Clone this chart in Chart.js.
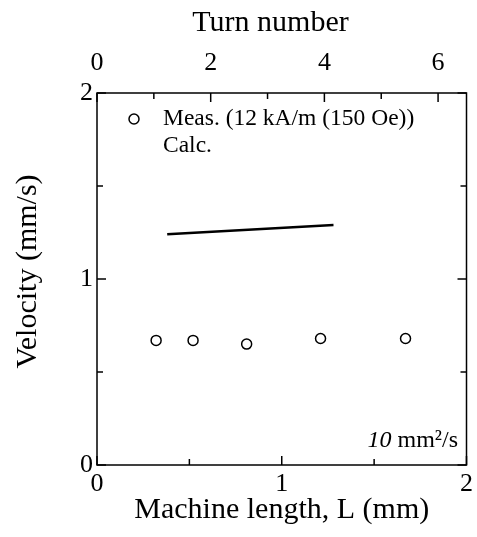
<!DOCTYPE html>
<html>
<head>
<meta charset="utf-8">
<script src="https://cdn.jsdelivr.net/npm/chart.js@4/dist/chart.umd.min.js"></script>
<style>
  html, body { margin: 0; padding: 0; background: #fff; }
</style>
</head>
<body>
<canvas id="c" width="477" height="537"></canvas>
<script>
// --- data ---
const lengthMeas = [0.32, 0.52, 0.81, 1.21, 1.67];
const velMeas = [0.67, 0.67, 0.65, 0.68, 0.68];
const lengthCalc = [0.38, 1.28];
const velCalc = [1.24, 1.29];

const lengthTicks = [0, 1, 2];
const lengthMinor = [0.5, 1.5];
const turnTicks = [0, 2, 4, 6];
const turnMinor = [1, 3, 5];
const velTicks = [0, 1, 2];
const velMinor = [0.5, 1.5];

const serif = 'Liberation Serif';

// frame + inward ticks, legend and note
const frameTicks = {
  id: 'frameTicks',
  afterDatasetsDraw(chart) {
    const { ctx, chartArea: a, scales } = chart;
    ctx.save();
    ctx.strokeStyle = '#000';
    ctx.lineWidth = 1.5;
    ctx.strokeRect(a.left, a.top, a.right - a.left, a.bottom - a.top);

    const seg = (x1, y1, x2, y2) => {
      ctx.beginPath(); ctx.moveTo(x1, y1); ctx.lineTo(x2, y2); ctx.stroke();
    };
    lengthTicks.concat(lengthMinor).forEach(v => {
      const px = scales.x.getPixelForValue(v);
      const len = lengthMinor.includes(v) ? 6 : 9;
      seg(px, a.bottom, px, a.bottom - len);
    });
    turnTicks.concat(turnMinor).forEach(v => {
      const px = scales.x2.getPixelForValue(v);
      const len = turnMinor.includes(v) ? 6 : 9;
      seg(px, a.top, px, a.top + len);
    });
    velTicks.concat(velMinor).forEach(v => {
      const py = scales.y.getPixelForValue(v);
      const len = velMinor.includes(v) ? 6 : 9;
      seg(a.left, py, a.left + len, py);
      seg(a.right, py, a.right - len, py);
    });

    // legend
    const ds = chart.data.datasets;
    ctx.font = '23.5px "' + serif + '"';
    ctx.textBaseline = 'middle';
    ctx.textAlign = 'left';
    ctx.lineWidth = 1.5;
    ctx.beginPath();
    ctx.arc(134, 119, 5, 0, Math.PI * 2);
    ctx.fillStyle = '#fff'; ctx.fill();
    ctx.stroke();
    ctx.fillStyle = '#000';
    ctx.fillText(ds[0].label, 163, 119);
    ctx.fillText(ds[1].label, 163, 146);

    // note, bottom right
    ctx.textBaseline = 'alphabetic';
    ctx.textAlign = 'right';
    ctx.font = '24px "' + serif + '"';
    const rest = ' mm\u00B2/s';
    const rw = ctx.measureText(rest).width;
    ctx.fillText(rest, 458, 447);
    ctx.font = 'italic 24px "' + serif + '"';
    ctx.fillText('10', 458 - rw, 447);
    ctx.restore();
  }
};

const tickFont = { family: serif, size: 26 };
const titleFont = { family: serif, size: 30 };

new Chart(document.getElementById('c'), {
  type: 'scatter',
  data: {
    datasets: [
      {
        label: 'Meas. (12 kA/m (150 Oe))',
        data: lengthMeas.map((x, i) => ({ x: x, y: velMeas[i] })),
        pointStyle: 'circle',
        pointRadius: 5,
        borderWidth: 1.5,
        borderColor: '#000',
        backgroundColor: '#fff',
        xAxisID: 'x', yAxisID: 'y'
      },
      {
        label: 'Calc.',
        data: lengthCalc.map((x, i) => ({ x: x, y: velCalc[i] })),
        showLine: true,
        pointRadius: 0,
        borderWidth: 2.5,
        borderColor: '#000',
        xAxisID: 'x', yAxisID: 'y'
      }
    ]
  },
  options: {
    responsive: false,
    animation: false,
    layout: { padding: { right: 9, left: 0, top: 0, bottom: 0 } },
    plugins: { legend: { display: false }, tooltip: { enabled: false } },
    scales: {
      x: {
        type: 'linear', position: 'bottom', min: 0, max: 2,
        afterBuildTicks: s => { s.ticks = lengthTicks.map(v => ({ value: v })); },
        afterFit: s => { s.height = 72; },
        grid: { display: false, drawTicks: false },
        border: { display: false },
        ticks: { font: tickFont, color: '#000', padding: 4, maxRotation: 0 },
        title: { display: true, text: 'Machine length, L (mm)', font: titleFont, color: '#000', padding: { top: 0, bottom: 9 } }
      },
      x2: {
        type: 'linear', position: 'top', min: 0, max: 6.5,
        afterBuildTicks: s => { s.ticks = turnTicks.map(v => ({ value: v })); },
        afterFit: s => { s.height = 93; },
        grid: { display: false, drawTicks: false },
        border: { display: false },
        ticks: { font: tickFont, color: '#000', padding: 14, maxRotation: 0 },
        // trailing spaces nudge the centred title a little left, as in the original
        title: { display: true, text: 'Turn number   ', font: titleFont, color: '#000', padding: { top: 5, bottom: 0 } }
      },
      y: {
        type: 'linear', position: 'left', min: 0, max: 2,
        afterBuildTicks: s => { s.ticks = velTicks.map(v => ({ value: v })); },
        afterFit: s => { s.width = 97; },
        grid: { display: false, drawTicks: false },
        border: { display: false },
        ticks: { font: tickFont, color: '#000', padding: 4 },
        title: { display: true, text: '  Velocity (mm/s)', font: titleFont, color: '#000', padding: { top: 10, bottom: 0 } }
      }
    }
  },
  plugins: [frameTicks]
});
</script>
</body>
</html>
